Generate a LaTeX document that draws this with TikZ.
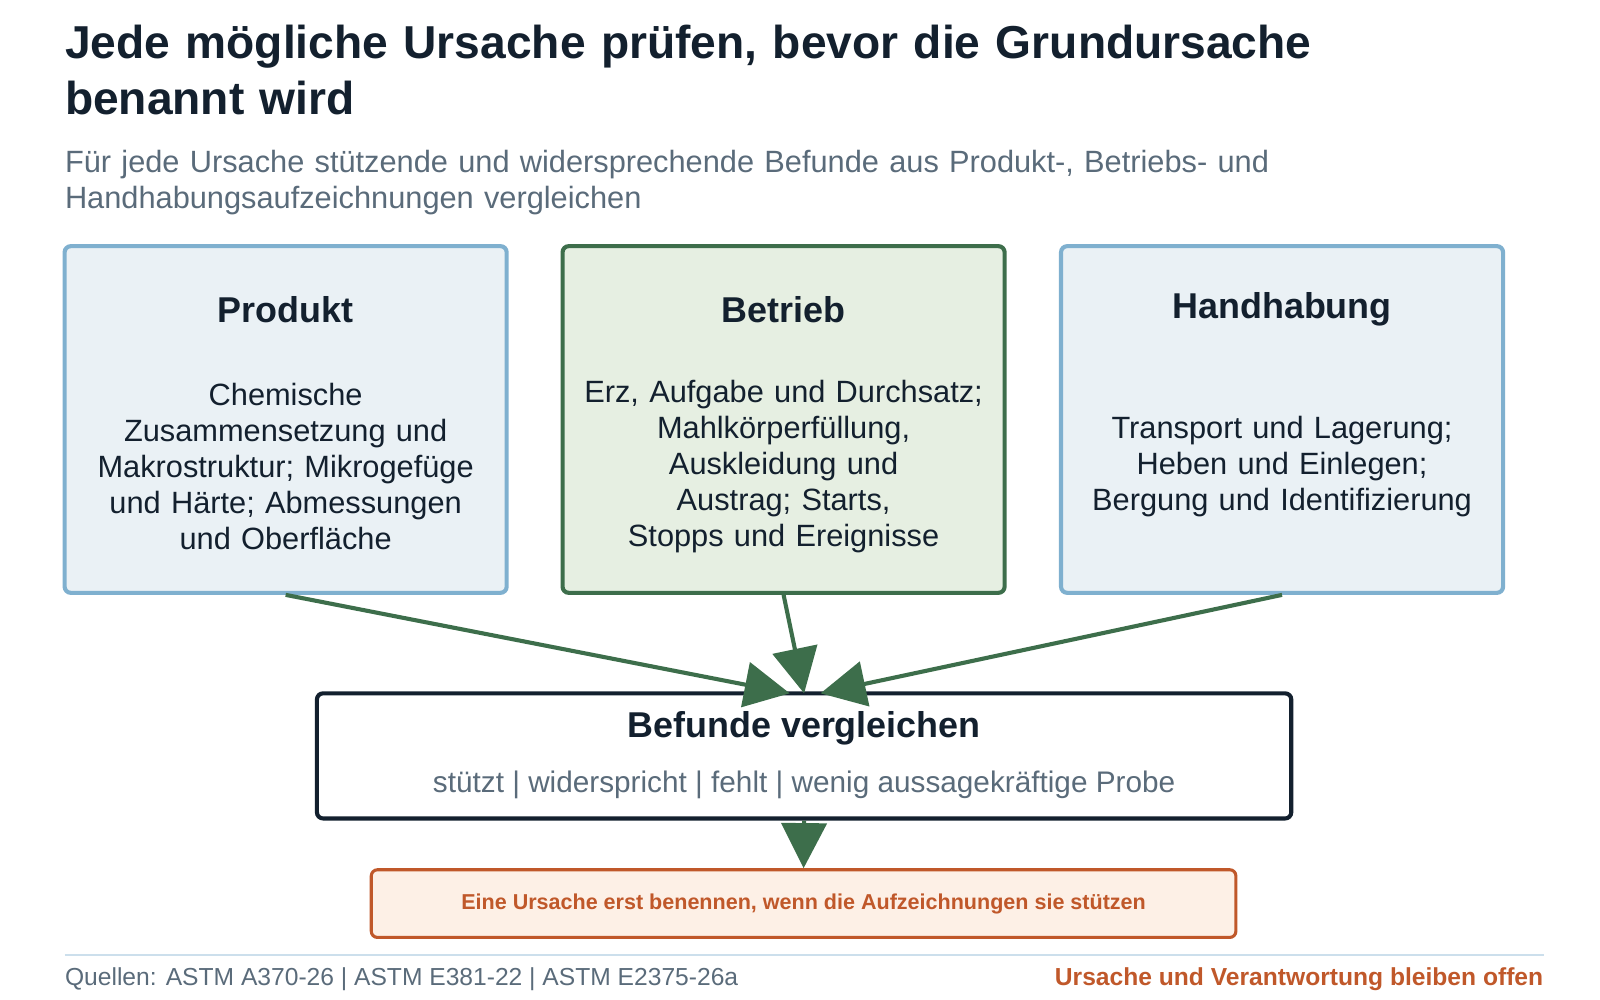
\documentclass[tikz,border=0pt]{standalone}
\usepackage{fontspec}
\setmainfont{Liberation Sans}
\usetikzlibrary{arrows.meta}
\definecolor{ink}{HTML}{13202E}
\definecolor{slate}{HTML}{5A6B7A}
\definecolor{skyline}{HTML}{7FB0CF}
\definecolor{skyfill}{HTML}{EAF1F5}
\definecolor{leaf}{HTML}{3D6E4B}
\definecolor{leaffill}{HTML}{E6EFE2}
\definecolor{rust}{HTML}{C0582A}
\definecolor{rustfill}{HTML}{FDF0E6}
\tikzset{
  every node/.append style={execute at begin node={\hyphenpenalty=10000\exhyphenpenalty=10000}},
  card/.style={draw=skyline, fill=skyfill, line width=2pt, rounded corners=3pt,
    minimum width=215.5pt, minimum height=169pt},
  head/.style={font=\fontsize{17.5}{20}\selectfont\bfseries, text=ink},
  body/.style={font=\fontsize{15}{17.5}\selectfont, text=ink, align=center, text width=200pt},
  flow/.style={draw=leaf, line width=2pt, -{Triangle[length=22pt,width=22pt]}}
}
\begin{document}
\begin{tikzpicture}[x=0.5pt, y=-0.5pt]
  \useasboundingbox (0,0) rectangle (1560,975);
  % title
  \node[anchor=north west, font=\fontsize{22.5}{27.5}\selectfont\bfseries, text=ink,
    align=left, text width=680pt, inner sep=0] (title) at (63,24)
    {Jede mögliche Ursache prüfen, bevor die Grundursache benannt wird};
  \node[anchor=north west, font=\fontsize{15}{17.5}\selectfont, text=slate,
    align=left, text width=660pt, inner sep=0] (sub) at (63,146)
    {Für jede Ursache stützende und widersprechende Befunde aus Produkt-, Betriebs- und Handhabungsaufzeichnungen vergleichen};
  % three cards
  \node[card] (prod) at (278.5,409) {};
  \node[card, draw=leaf, fill=leaffill] (betr) at (764,409) {};
  \node[card] (hand) at (1250,409) {};
  \node[head] (prodH) at (278.5,302) {Produkt};
  \node[head] (betrH) at (764,302) {Betrieb};
  \node[head] (handH) at (1250,302) {Handhabung};
  \node[body] (prodB) at (278.5,455) {Chemische Zusammensetzung und Makrostruktur; Mikrogefüge und Härte; Abmessungen und Oberfläche};
  \node[body] (betrB) at (764,455) {Erz, Aufgabe und Durchsatz; Mahlkörperfüllung, Auskleidung und Austrag; Starts, Stopps und Ereignisse};
  \node[body] (handB) at (1250,455) {Transport und Lagerung; Heben und Einlegen; Bergung und Identifizierung};
  % comparison
  \node[draw=ink, line width=2pt, rounded corners=3pt, fill=white,
    minimum width=475pt, minimum height=61pt] (cmp) at (784,737) {};
  \node[head] (cmpH) at (784,710) {Befunde vergleichen};
  \node[font=\fontsize{14.5}{16}\selectfont, text=slate] (cmpS) at (784,765)
    {stützt | widerspricht | fehlt | wenig aussagekräftige Probe};
  \node[draw=rust, fill=rustfill, line width=1.5pt, rounded corners=3pt,
    minimum width=421.5pt, minimum height=33pt, text=rust,
    font=\fontsize{10.5}{12}\selectfont\bfseries] (rule) at (783.5,881)
    {Eine Ursache erst benennen, wenn die Aufzeichnungen sie stützen};
  \coordinate (inL) at (770,676);
  \coordinate (inM) at (784,676);
  \coordinate (inR) at (800,676);
  \draw[flow] (prod.south) -- (inL);
  \draw[flow] (betr.south) -- (inM);
  \draw[flow] (hand.south) -- (inR);
  \draw[flow] (cmp.south) -- (rule.north);
  % footer
  \draw[draw=skyline!40, line width=1pt] (63,931) -- (1505,931);
  \node[anchor=west, font=\fontsize{12}{14}\selectfont, text=slate, inner sep=0] (src) at (63,955)
    {Quellen: ASTM A370-26 | ASTM E381-22 | ASTM E2375-26a};
  \node[anchor=east, font=\fontsize{12}{14}\selectfont\bfseries, text=rust, inner sep=0] (note) at (1505,955)
    {Ursache und Verantwortung bleiben offen};
\end{tikzpicture}
\end{document}
